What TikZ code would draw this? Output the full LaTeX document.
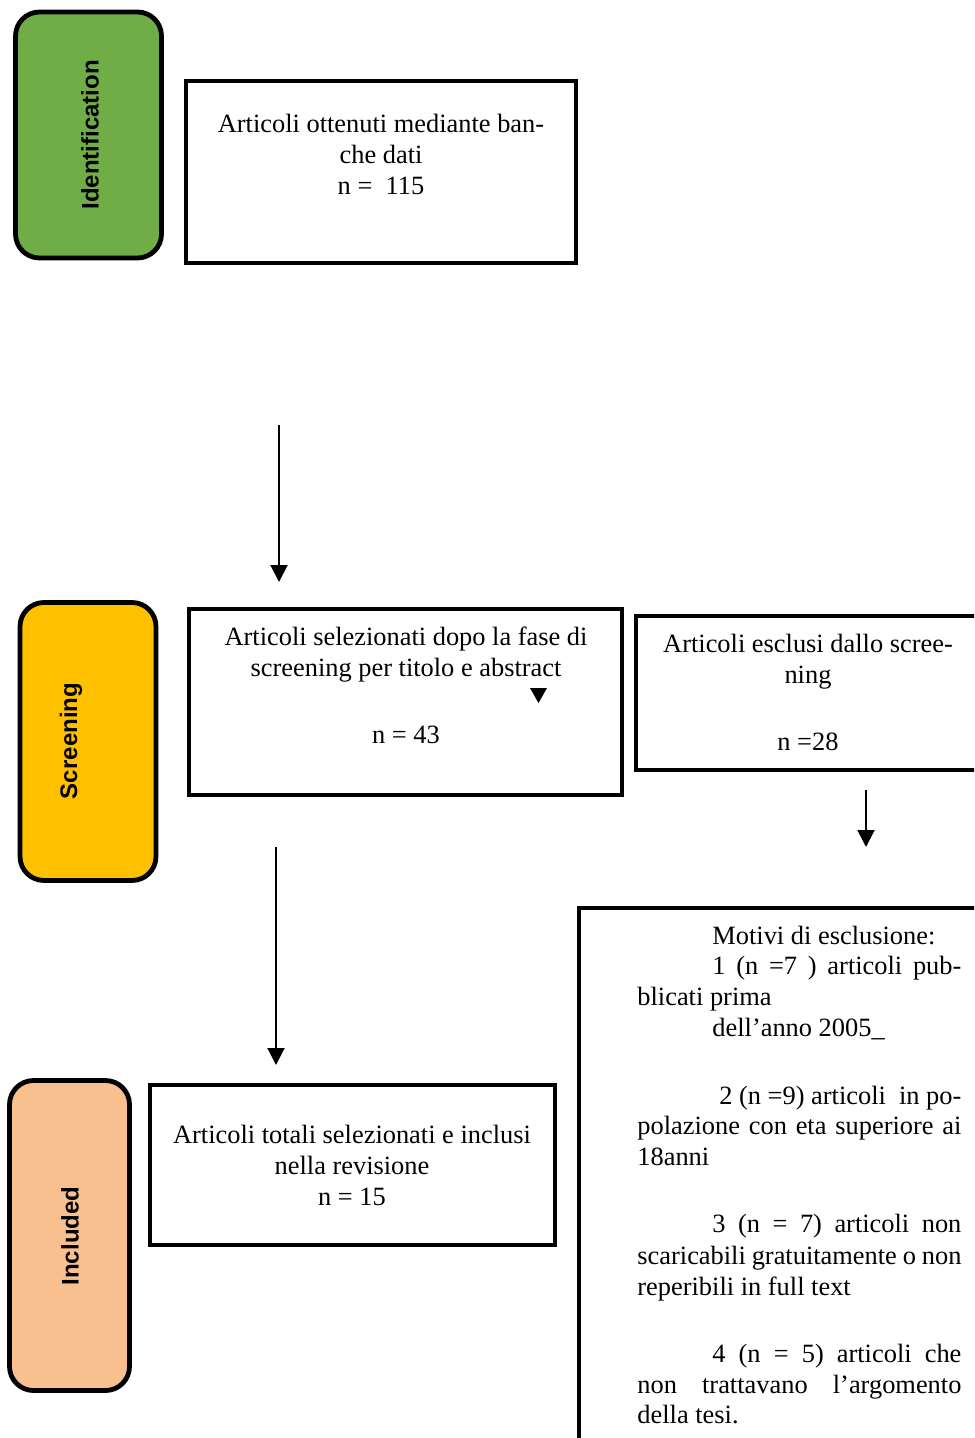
\documentclass[tikz,border=0pt]{standalone}
\usepackage{fontspec}
\setmainfont{Liberation Serif}
\newfontfamily\labelfont{Liberation Sans}
\usetikzlibrary{arrows.meta}

\definecolor{idgreen}{HTML}{70AD47}
\definecolor{scryellow}{HTML}{FFC000}
\definecolor{incpeach}{HTML}{F8C08F}

\tikzset{
  phase/.style={draw, line width=2.4pt, rounded corners=12pt},
  phaselabel/.style={rotate=90, inner sep=0pt, font=\labelfont\bfseries\fontsize{12}{14}\selectfont},
  box/.style={draw, line width=2pt, inner sep=0pt},
  txt/.style={align=center, inner sep=0pt, font=\fontsize{13.2}{15.5}\selectfont},
  reason/.style={anchor=base west, inner sep=0pt, font=\fontsize{13.2}{15.5}\selectfont},
  flow/.style={line width=1pt, -{Triangle[width=8.5pt,length=8.5pt]}}
}

\begin{document}
\begin{tikzpicture}[x=0.5pt, y=-0.5pt]
    \clip (0,0) rectangle (974,1438);
    \fill[white] (0,0) rectangle (974,1438);

    % Phases
    \node[phase, fill=idgreen, minimum width=73pt, minimum height=123pt] (ident) at (88.5,135) {};
    \node[phaselabel] (identlabel) at (90,135) {Identification};
    \node[phase, fill=scryellow, minimum width=68pt, minimum height=139pt] (screen) at (88,741.5) {};
    \node[phaselabel] (screenlabel) at (71,741) {Screening};
    \node[phase, fill=incpeach, minimum width=60pt, minimum height=155pt] (incl) at (69.5,1235.5) {};
    \node[phaselabel] (incllabel) at (70,1236) {Included};

    % Boxes
    \node[box, minimum width=195pt, minimum height=91pt] (found) at (381,172) {};
    \node[txt] (foundtxt) at (381,154) {Articoli ottenuti mediante ban-\\che dati\\n = \ 115};

    \node[box, minimum width=216.5pt, minimum height=93pt] (selected) at (405.5,702) {};
    \node[txt] (selectedtxt) at (406,685) {Articoli selezionati dopo la fase di\\screening per titolo e abstract\\[18pt]n = 43};
    \fill (530,688) -- (547,688) -- (538.5,703) -- cycle;

    \node[box, minimum width=172pt, minimum height=77pt] (excluded) at (808,693) {};
    \node[txt] (excludedtxt) at (808,692) {Articoli esclusi dallo scree-\\ning\\[18pt]n =28};

    \node[box, minimum width=202.5pt, minimum height=80pt] (total) at (352.5,1165) {};
    \node[txt] (totaltxt) at (352,1165.5) {Articoli totali selezionati e inclusi\\nella revisione\\n = 15};

    \node[box, minimum width=220pt, minimum height=296pt] (reasons) at (798.5,1203.5) {};

    % Reasons for exclusion
    \node[reason] (r1) at (712,944) {Motivi di esclusione:};
    \node[reason] (r2) at (712,974) {\makebox[124.5pt][s]{1 (n =7 ) articoli pub-}};
    \node[reason] (r3) at (637,1005) {blicati prima};
    \node[reason] (r4) at (712,1036) {dell’anno 2005\_};
    \node[reason] (r5) at (719,1104) {\makebox[121pt][s]{2 (n =9) articoli \ in po-}};
    \node[reason] (r6) at (637,1134) {\makebox[162pt][s]{polazione con eta superiore ai}};
    \node[reason] (r7) at (637,1165) {18anni};
    \node[reason] (r8) at (712,1232) {\makebox[124.5pt][s]{3 (n = 7) articoli non}};
    \node[reason] (r9) at (637,1264) {\makebox[162pt][s]{scaricabili gratuitamente o non}};
    \node[reason] (r10) at (637,1295) {reperibili in full text};
    \node[reason] (r11) at (712,1362) {\makebox[124.5pt][s]{4 (n = 5) articoli che}};
    \node[reason] (r12) at (637,1393) {\makebox[162pt][s]{non trattavano l’argomento}};
    \node[reason] (r13) at (637,1423) {della tesi.};

    % Arrows
    \coordinate (a1) at (279,425);
    \coordinate (a2) at (279,582);
    \coordinate (b1) at (866,790);
    \coordinate (b2) at (866,847);
    \coordinate (c1) at (276,847);
    \coordinate (c2) at (276,1065);
    \draw[flow] (a1) -- (a2);
    \draw[flow] (b1) -- (b2);
    \draw[flow] (c1) -- (c2);

\end{tikzpicture}
\end{document}
